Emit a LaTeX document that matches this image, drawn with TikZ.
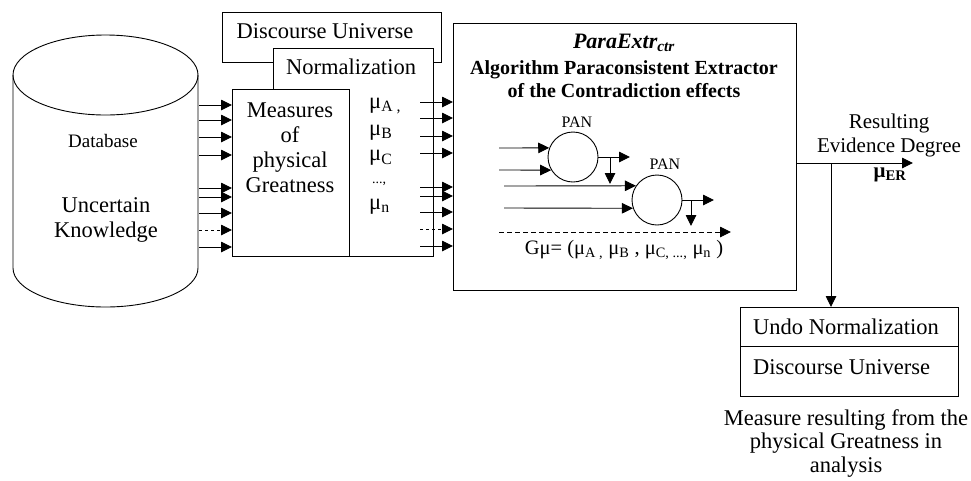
\documentclass[tikz,border=0pt]{standalone}
\usepackage{fontspec}
\setmainfont{Liberation Serif}
\usetikzlibrary{arrows.meta}
\tikzset{
  box/.style={draw, line width=0.9pt, fill=white, anchor=north west, inner sep=0pt},
  arr/.style={line width=0.9pt, -{Triangle[length=11pt,width=10.5pt]}},
  plain/.style={line width=0.9pt},
  pan/.style={draw, circle, line width=0.9pt, minimum size=50pt, inner sep=0pt},
  big/.style={font=\fontsize{22.5}{25}\selectfont, inner sep=0pt},
  small/.style={font=\fontsize{16}{18}\selectfont, inner sep=0pt},
  bold/.style={font=\fontsize{20}{23}\selectfont\bfseries, inner sep=0pt},
}
\begin{document}
\begin{tikzpicture}[x=1pt,y=-1pt]
\useasboundingbox (0,0) rectangle (971,480);
% cylinder
\draw[plain] (13,75) -- (13,268) arc[start angle=180,end angle=360,x radius=92.5pt,y radius=39pt] -- (198,75);
\draw[plain] (105.5,75) ellipse[x radius=92.5pt,y radius=40pt];
\node[big, font=\fontsize{19}{22}\selectfont] (dbt) at (103,141) {Database};
\node[big, align=center] (ukt) at (106,220) {Uncertain\\Knowledge};
% left boxes
\node[box, minimum width=219pt, minimum height=50pt] (du) at (222,12) {};
\node[big] (dut) at (325,31) {Discourse Universe};
\node[box, minimum width=160pt, minimum height=208pt] (norm) at (273,48) {};
\node[big] (normt) at (351,67) {Normalization};
\node[box, minimum width=117pt, minimum height=167pt] (meas) at (232,89) {};
\node[big, align=center] (meast) at (290,148) {Measures\\of\\physical\\Greatness};
\node[big, anchor=west] (ma) at (369,106) {μ\textsubscript{A ,}};
\node[big, anchor=west] (mb) at (369,133) {μ\textsubscript{B}};
\node[big, anchor=west] (mc) at (369,158) {μ\textsubscript{C}};
\node[small, font=\fontsize{14}{16}\selectfont, anchor=west] (md) at (372,184) {...,};
\node[big, anchor=west] (mn) at (369,207) {μ\textsubscript{n}};
% input arrows
\foreach \y/\s in {105/solid,120/solid,137/solid,155/solid,188/solid,197/solid,213/solid,230/dashed,247/solid}{
  \coordinate (l\y) at (199,\y);
  \draw[arr,\s] (l\y) -- (l\y -| meas.west);
}
% big box
\node[box, minimum width=343pt, minimum height=267pt] (alg) at (453,23) {};
\foreach \y/\s in {102/solid,118/solid,136/solid,153/solid,187/solid,196/solid,212/solid,229/dashed,246/solid}{
  \coordinate (r\y) at (420,\y);
  \draw[arr,\s] (r\y) -- (r\y -| alg.west);
}
\node[big, font=\fontsize{22}{24}\selectfont\bfseries\itshape] (tit) at (624,43) {ParaExtr\textsubscript{ctr}};
\node[bold, align=center] (algt) at (624,79.5) {Algorithm Paraconsistent Extractor\\of the Contradiction effects};
% PAN circles
\node[pan] (c1) at (573,157) {};
\node[pan] (c2) at (657,200) {};
\node[small] (p1) at (577,122) {PAN};
\node[small] (p2) at (665,164) {PAN};
\coordinate (a1) at (499,148);
\coordinate (a2) at (499,170);
\coordinate (a3) at (504,186);
\coordinate (a4) at (504,208);
\draw[arr] (a1) -- (c1.159);
\draw[arr] (a2) -- (c1.211);
\draw[arr] (a3) -- (c2.146);
\draw[arr] (a4) -- (c2.199);
\coordinate (o1) at (630,157);
\coordinate (o2) at (714,200);
\draw[arr] (c1.east) -- (o1);
\draw[arr] (c2.east) -- (o2);
\coordinate (b1) at (610,157);
\coordinate (b1e) at (610,184);
\coordinate (b2) at (691,200);
\coordinate (b2e) at (691,226);
\draw[arr] (b1) -- (b1e);
\draw[arr] (b2) -- (b2e);
\coordinate (ds) at (499,232);
\coordinate (de) at (731,232);
\draw[arr,dashed,dash pattern=on 5pt off 3pt] (ds) -- (de);
\node[big, font=\fontsize{20.5}{24}\selectfont] (gmu) at (624,250) {Gμ= (μ\textsubscript{A ,} μ\textsubscript{B} , μ\textsubscript{C, ...,} μ\textsubscript{n} )};
% output
\coordinate (out) at (913,163);
\draw[arr] (alg.east |- out) -- (out);
\node[big, align=center, font=\fontsize{21}{24}\selectfont] (ret) at (889,135) {Resulting\\Evidence Degree};
\node[big, font=\fontsize{21}{24}\selectfont\bfseries] (mer) at (890,175) {μ\textsubscript{ER}};
% bottom boxes
\node[box, minimum width=218pt, minimum height=39pt] (undo) at (740,307) {};
\node[box, minimum width=218pt, minimum height=50pt] (dub) at (740,346) {};
\node[big, anchor=west] (undot) at (753,327) {Undo Normalization};
\node[big, anchor=west] (dubt) at (753,367) {Discourse Universe};
\coordinate (br) at (831,163);
\draw[arr] (br) -- (br |- undo.north);
\node[big, align=center, font=\fontsize{22.5}{23.5}\selectfont] (cap) at (846,443) {Measure resulting from the\\physical Greatness in\\analysis};
\end{tikzpicture}
\end{document}
